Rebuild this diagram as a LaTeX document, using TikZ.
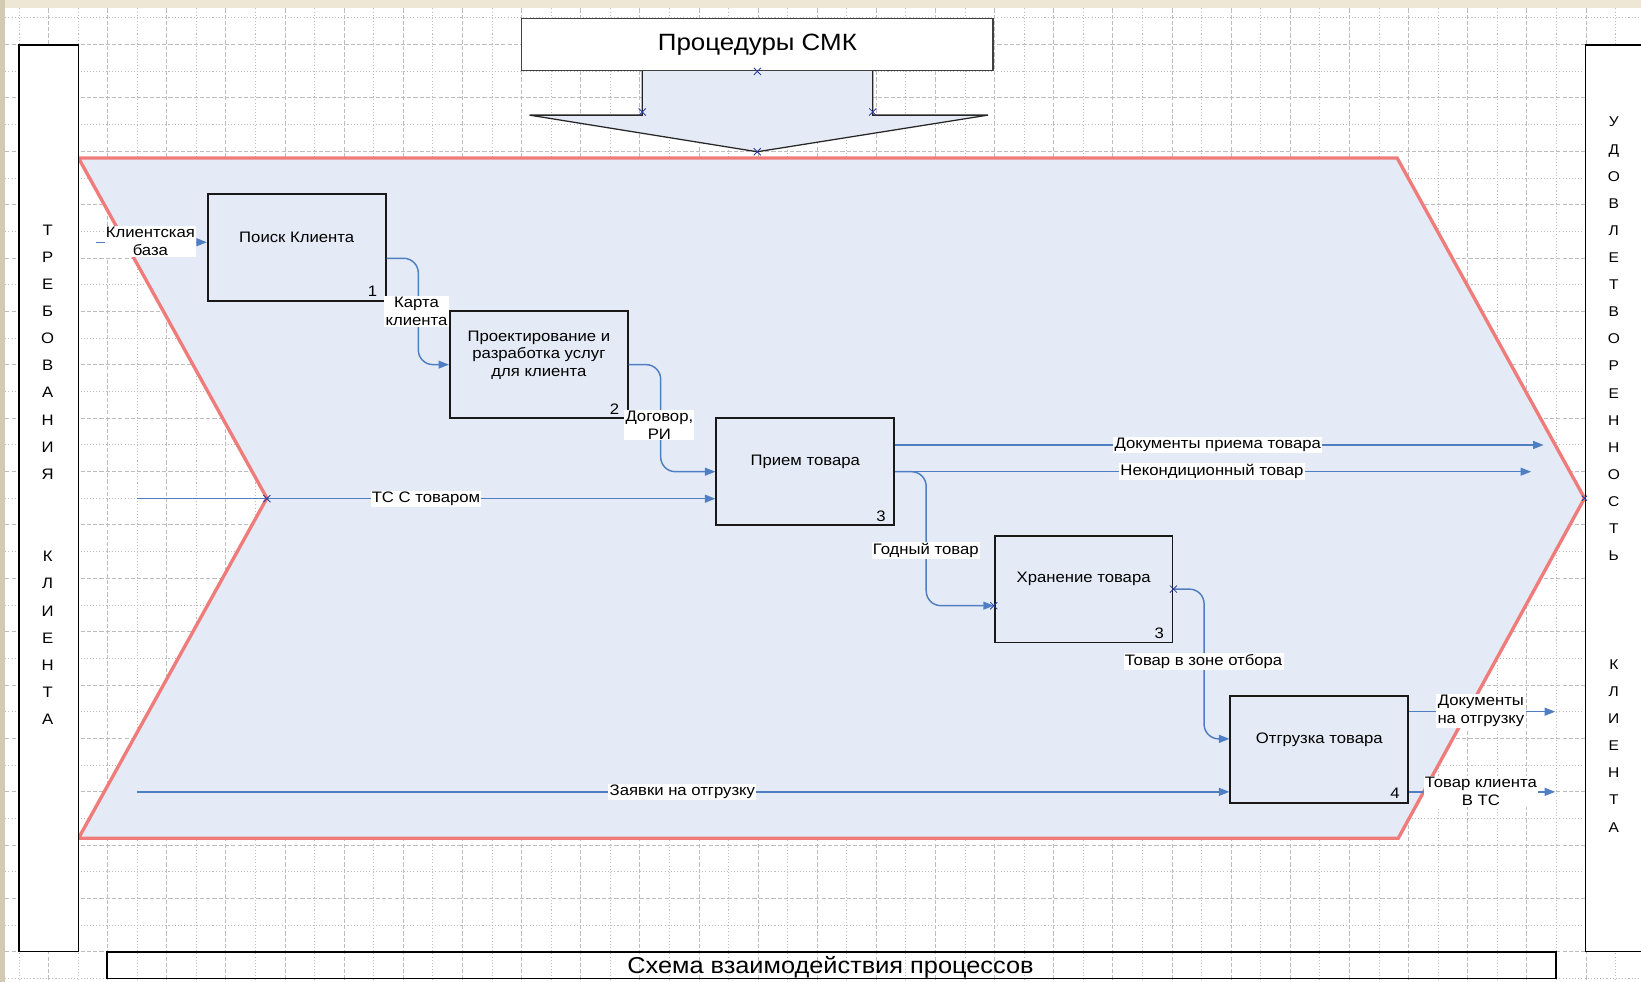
\documentclass[tikz,border=0pt]{standalone}
\usepackage{fontspec}
\setmainfont{Liberation Sans}[FakeStretch=1.1]
\usetikzlibrary{arrows.meta,shapes.misc}

\definecolor{beigetop}{HTML}{EFE7D6}
\definecolor{beigeside}{HTML}{D3CAB4}
\definecolor{gridgray}{HTML}{BDBDBD}
\definecolor{chevfill}{HTML}{E5EBF6}
\definecolor{chevred}{HTML}{F07B7B}
\definecolor{flowblue}{HTML}{4F7EC2}
\definecolor{xblue}{HTML}{2C3C9E}

\newcommand{\fsz}[2]{\fontsize{#1}{#2}\selectfont}

\begin{document}
\begin{tikzpicture}[x=1pt,y=-1pt,
  procbox/.style={draw=black!90, line width=1.7pt, minimum width=170pt, minimum height=102pt, inner sep=0pt},
  boxtitle/.style={font=\fsz{14.5}{17}, align=center, inner sep=0pt},
  boxnum/.style={font=\fsz{14.5}{17}, inner sep=0pt},
  flow/.style={draw=flowblue, line width=1.4pt, rounded corners=14pt, -{Triangle[length=10pt,width=7.5pt]}},
  lab/.style={fill=white, inner sep=1.2pt, font=\fsz{14.5}{17}, align=center},
  xmark/.style={cross out, draw=xblue, line width=0.8pt, minimum size=6pt, inner sep=0pt},
  frame/.style={draw=black, line width=1.5pt, fill=white, inner sep=0pt},
  griddash/.style={draw=gridgray, line width=0.6pt, dash pattern=on 4pt off 2pt},
  griddot/.style={draw=gridgray, line width=0.6pt, dash pattern=on 1pt off 2pt},
]
\useasboundingbox (0,0) rectangle (1568,938);
\clip (0,0) rectangle (1568,938);
% paper and page border
\fill[white] (0,0) rectangle (1568,938);
\fill[beigetop] (0,0) rectangle (1568,8);
\fill[beigeside] (0,0) rectangle (5,938);

% drawing grid
\foreach \k in {0,...,36}{%
  \pgfmathsetmacro{\yy}{16.9+25.5*\k}%
  \ifodd\k\relax \draw[griddash] (5,\yy) -- (1568,\yy);%
  \else \draw[griddot] (5,\yy) -- (1568,\yy);\fi}
\foreach \k in {0,...,54}{%
  \pgfmathsetmacro{\xx}{18+28.25*\k}%
  \ifodd\k\relax \draw[griddash] (\xx,8) -- (\xx,938);%
  \else \draw[griddot] (\xx,8) -- (\xx,938);\fi}

% main process chevron
\filldraw[fill=chevfill, draw=chevred, line width=3.2pt]
  (75,151) -- (1335,151) -- (1514,476) -- (1336,801) -- (75,801) -- (255,476) -- cycle;

% control arrow from the QMS procedures
\filldraw[fill=chevfill, draw=black!85, line width=1.2pt]
  (613.6,67.5) -- (613.6,110) -- (506,110) -- (723.5,145) -- (944,110) -- (834,110) -- (834,67.5);
\node[frame, draw=black!75, minimum width=450.5pt, minimum height=50pt, font=\fsz{22.5}{26}] (smk) at (723.7,42.5) {Процедуры СМК};

% input and output frames
\node[frame, minimum width=57pt, minimum height=866pt] (req) at (46.5,476) {};
\node[font=\fsz{14.5}{25.9}, align=center, inner sep=0pt] (reqtxt) at (45.5,453.5)
  {Т\\Р\\Е\\Б\\О\\В\\А\\Н\\И\\Я\\[53pt]К\\Л\\И\\Е\\Н\\Т\\А};
\node[frame, minimum width=90pt, minimum height=866pt] (sat) at (1560,476) {};
\node[font=\fsz{13.5}{25.9}, align=center, inner sep=0pt] (sattxt) at (1542,453.5)
  {У\\Д\\О\\В\\Л\\Е\\Т\\В\\О\\Р\\Е\\Н\\Н\\О\\С\\Т\\Ь\\[78pt]К\\Л\\И\\Е\\Н\\Т\\А};

% caption frame
\node[draw=black, line width=1.5pt, minimum width=1384.4pt, minimum height=25.1pt, inner sep=0pt] (capbox) at (794.6,922.2) {};
\node[anchor=base, inner sep=0pt, font=\fsz{22}{26}] (captxt) at (793.5,930.3) {Схема взаимодействия процессов};

% process steps
\node[procbox] (b1) at (283.5,236.4) {};
\node[procbox] (b2) at (514.9,348.4) {};
\node[procbox] (b3) at (769.4,450.7) {};
\node[procbox] (b4) at (1035.4,562.9) {};
\node[procbox] (b5) at (1260.6,716) {};

\node[boxtitle] (b1t) at ([yshift=9.5pt]b1.center) {Поиск Клиента};
\node[boxtitle] (b2t) at ([yshift=9pt]b2.center) {Проектирование и\\разработка услуг\\для клиента};
\node[boxtitle] (b3t) at ([yshift=9.5pt]b3.center) {Прием товара};
\node[boxtitle] (b4t) at ([yshift=9.5pt]b4.center) {Хранение товара};
\node[boxtitle] (b5t) at ([yshift=9.5pt]b5.center) {Отгрузка товара};

\node[boxnum] (b1n) at ([xshift=-13.5pt,yshift=9.7pt]b1.south east) {1};
\node[boxnum] (b2n) at ([xshift=-13.5pt,yshift=9.7pt]b2.south east) {2};
\node[boxnum] (b3n) at ([xshift=-13.5pt,yshift=9.7pt]b3.south east) {3};
\node[boxnum] (b4n) at ([xshift=-13.5pt,yshift=9.7pt]b4.south east) {3};
\node[boxnum] (b5n) at ([xshift=-13.5pt,yshift=9.7pt]b5.south east) {4};

% free ends of the flows
\coordinate (cbstart) at (92,231.5);
\coordinate (tcstart) at (131,476.5);
\coordinate (zvstart) at (131,756.6);
\coordinate (docend) at (1475,425.2);
\coordinate (nkend) at (1463,450.7);
\coordinate (dotend) at (1486,680.0);
\coordinate (tkend) at (1486,756.6);

% flows
\draw[flow] (cbstart) -- ([yshift=4.9pt]b1.west);
\draw[flow] ([yshift=-10.4pt]b1.east) -| (399.7,300) |- (b2.west);
\draw[flow] (b2.east) -| (631.3,400) |- (b3.west);
\draw[flow] (tcstart) -- ([yshift=-25.8pt]b3.west);
\draw[flow] ([yshift=25.5pt]b3.east) -- (docend);
\draw[flow] (b3.east) -- (nkend);
\draw[flow] (b3.east) -| (885,520) |- ([yshift=-15.8pt]b4.west);
\draw[flow] (b4.east) -| (1150.5,630) |- ([yshift=10pt]b5.west);
\draw[flow] (zvstart) -- ([yshift=-40.6pt]b5.west);
\draw[flow] ([yshift=36pt]b5.east) -- (dotend);
\draw[flow] ([yshift=-40.6pt]b5.east) -- (tkend);

% flow labels
\node[lab] (l1) at (143.7,230.7) {Клиентская\\база};
\node[lab] (l2) at (398,297.3) {Карта\\клиента};
\node[lab] (l3) at (630,406) {Договор,\\РИ};
\node[lab] (l4) at (407,476.5) {ТС С товаром};
\node[lab] (l5) at (1163.5,425.2) {Документы приема товара};
\node[lab] (l6) at (1158,450.7) {Некондиционный товар};
\node[lab] (l7) at (884.5,526) {Годный товар};
\node[lab] (l8) at (1150,632) {Товар в зоне отбора};
\node[lab] (l9) at (652,756.6) {Заявки на отгрузку};
\node[lab] (l10) at (1415,679.5) {Документы\\на отгрузку};
\node[lab] (l11) at (1415,756) {Товар клиента\\В ТС};

% junction marks
\node[xmark] (x1) at (smk.south) {};
\node[xmark] (x2) at (613.6,107) {};
\node[xmark] (x3) at (834,107) {};
\node[xmark] (x4) at (723.5,145) {};
\node[xmark] (x5) at (255,476.5) {};
\node[xmark] (x6) at ([yshift=-15.8pt]b4.west) {};
\node[xmark] (x7) at (b4.east) {};
\node[xmark, minimum size=4pt] (x8) at (1514,476) {};
\end{tikzpicture}
\end{document}
